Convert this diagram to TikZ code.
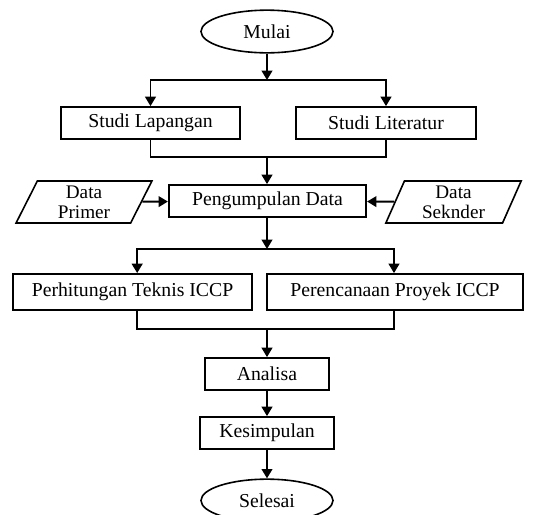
\documentclass[tikz,border=0pt]{standalone}
\usepackage{fontspec}
\setmainfont{Liberation Serif}
\usepackage{tikz}
\usetikzlibrary{shapes.geometric}
\usetikzlibrary{arrows.meta}
\usetikzlibrary{positioning}

\begin{document}
\begin{tikzpicture}[x=0.75pt, y=-0.75pt,
        font=\fontsize{14.8}{17}\selectfont,
        terminal/.style={ellipse, draw=black, line width=1.2pt, inner sep=0pt, minimum width=99pt, minimum height=32pt},
        process/.style={rectangle, draw=black, line width=1.4pt, inner sep=0pt, minimum height=24pt},
        datain/.style={trapezium, trapezium left angle=70, trapezium right angle=110, trapezium stretches=true, draw=black, line width=1.2pt, inner sep=0pt, minimum width=102pt, minimum height=31.5pt, align=center, font=\fontsize{14.4}{15}\selectfont},
        arrow/.style={line width=1.4pt, -{Triangle[width=8pt, length=7pt]}},
        line/.style={line width=1.4pt}
      ]
        \useasboundingbox (0,0) rectangle (544,515);

        \node[terminal] (mulai)     at (267,31.5)                        {Mulai};
        \node[process, minimum width=134pt]  (lapangan)  at (150.5,123)  {Studi Lapangan};
        \node[process, minimum width=135pt]  (literatur) at (386,123)    {Studi Literatur};
        \node[process, minimum width=148pt]  (kumpul)    at (267.5,201)  {Pengumpulan Data};
        \node[datain] (primer)      at (84,202)                          {Data\\Primer};
        \node[datain] (sekunder)    at (453.5,202)                       {Data\\Seknder};
        \node[process, minimum width=179pt, minimum height=27pt] (hitung)  at (132.5,292) {Perhitungan Teknis ICCP};
        \node[process, minimum width=192pt, minimum height=27pt] (rencana) at (395,292) {Perencanaan Proyek ICCP};
        \node[process, minimum width=93pt]   (analisa)   at (267,374)    {Analisa};
        \node[process, minimum width=101pt]  (simpul)    at (267,433)    {Kesimpulan};
        \node[terminal] (selesai)   at (267,500.5)                       {Selesai};

        \coordinate (split1) at (267,80);
        \coordinate (merge1) at (267,157);
        \coordinate (split2) at (267,249);
        \coordinate (merge2) at (267,329);

        \draw[arrow] (mulai) -- (split1);
        \draw[arrow] (split1) -| (lapangan);
        \draw[arrow] (split1) -| (literatur);
        \draw[line]  (lapangan) |- (merge1) -| (literatur);
        \draw[arrow] (merge1) -- (kumpul.north -| merge1);
        \draw[arrow] (primer) -- (kumpul);
        \draw[arrow] (sekunder) -- (kumpul);
        \draw[arrow] (kumpul.south -| split2) -- (split2);
        \draw[arrow] (split2) -| ([xshift=3.5pt]hitung.north);
        \draw[arrow] (split2) -| ([xshift=-0.75pt]rencana.north);
        \draw[line]  ([xshift=3.5pt]hitung.south) |- (merge2) -| ([xshift=-0.75pt]rencana.south);
        \draw[arrow] (merge2) -- (analisa);
        \draw[arrow] (analisa) -- (simpul);
        \draw[arrow] (simpul) -- (selesai);
      \end{tikzpicture}
\end{document}
